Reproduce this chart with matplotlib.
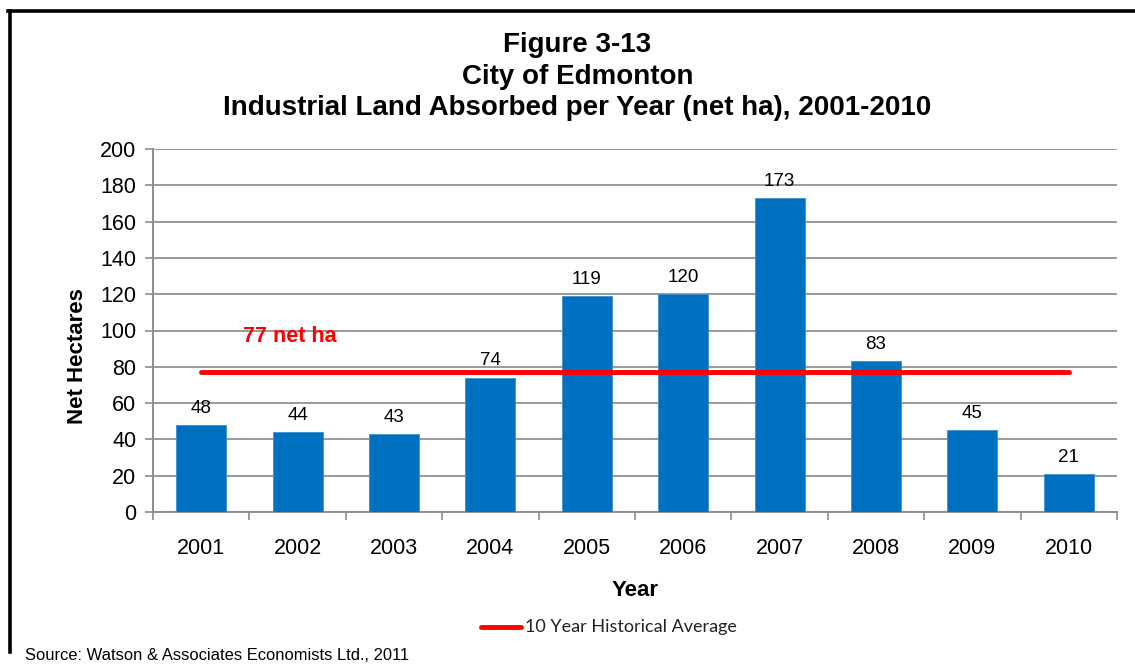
import matplotlib
matplotlib.use("Agg")
import matplotlib.pyplot as plt
from matplotlib.lines import Line2D

years = ["2001", "2002", "2003", "2004", "2005", "2006", "2007", "2008", "2009", "2010"]
net_ha = [48, 44, 43, 74, 119, 120, 173, 83, 45, 21]
average_ha = 77
y_ticks = [0, 20, 40, 60, 80, 100, 120, 140, 160, 180, 200]

plt.rcParams["font.family"] = ["Liberation Sans", "DejaVu Sans"]

W, H = 1135, 665
fig = plt.figure(figsize=(W / 100, H / 100), dpi=100)
fig.patch.set_facecolor("white")

# outer frame: top and left edges (it runs off the right side)
fig.add_artist(Line2D([9.5 / W, 9.5 / W], [1 - 652 / H, 1 - 11 / H], color="black",
                      linewidth=2.6, transform=fig.transFigure))
fig.add_artist(Line2D([8.3 / W, 1.0], [1 - 11 / H, 1 - 11 / H], color="black",
                      linewidth=2.6, transform=fig.transFigure))

ax = fig.add_axes([153 / W, (H - 512) / H, 964 / W, (512 - 149) / H])
x = list(range(len(years)))
ax.bar(x, net_ha, width=0.52, color="#0070C0", edgecolor="#3d8fd0", linewidth=0.6, zorder=3)
ax.plot(x, [average_ha] * len(years), color="#FF0000", linewidth=3.5,
        solid_capstyle="round", zorder=4)

for xi, v in zip(x, net_ha):
    ax.annotate(str(v), (xi, v), xytext=(0, 6), textcoords="offset points",
                ha="center", va="bottom", fontsize=13.5, color="black")

ax.text(0.43, average_ha + 14, f"{average_ha} net ha", color="#FF0000", fontsize=15.5,
        fontweight="bold", ha="left", va="bottom")

ax.set_xlim(-0.5, len(years) - 0.5)
ax.set_ylim(0, 200)
ax.set_yticks(y_ticks)
ax.set_yticklabels([str(t) for t in y_ticks], fontsize=15.5)
ax.set_xticks(x)
ax.set_xticklabels(years, fontsize=15.5)
ax.tick_params(axis="x", length=0, pad=19)
ax.set_xticks([i - 0.5 for i in range(len(years) + 1)], minor=True)
ax.tick_params(axis="x", which="minor", length=6, color="#8c8c8c", width=1.2)
ax.tick_params(axis="y", length=6, color="#8c8c8c", width=1.2, pad=6)

ax.grid(axis="y", color="#9a9a9a", linewidth=1.4, zorder=0)
ax.set_axisbelow(True)
for s in ["top", "right"]:
    ax.spines[s].set_visible(False)
for s in ["left", "bottom"]:
    ax.spines[s].set_color("#8c8c8c")
    ax.spines[s].set_linewidth(1.4)

ax.set_xlabel("Year", fontsize=16, fontweight="bold", labelpad=15)
ax.set_ylabel("Net Hectares", fontsize=16, fontweight="bold")
ax.yaxis.label.set_va("center")
ax.yaxis.set_label_coords(-0.078, 0.43)

title_x = 0.5 * (213 + 942) / W
fig.text(title_x, 1 - 45 / H, "Figure 3-13", ha="center", va="center",
         fontsize=20, fontweight="bold")
fig.text(title_x, 1 - 77 / H, "City of Edmonton", ha="center", va="center",
         fontsize=20, fontweight="bold")
fig.text(title_x, 1 - 108 / H,
         "Industrial Land Absorbed per Year (net ha), 2001-2010", ha="center", va="center",
         fontsize=20, fontweight="bold")

# legend entry
fig.add_artist(Line2D([481 / W, 521 / W], [1 - 627 / H] * 2, color="#FF0000", linewidth=3.5,
                      solid_capstyle="round", transform=fig.transFigure))
fig.text(525 / W, 1 - 627 / H, "10 Year Historical Average", ha="left", va="center",
         fontsize=13, family=["Lato", "DejaVu Sans"], color="#222222")

fig.text(25 / W, 1 - 655 / H, "Source: Watson & Associates Economists Ltd., 2011",
         ha="left", va="center", fontsize=11.9, color="black")

fig.savefig("out.png", dpi=100, facecolor="white")
